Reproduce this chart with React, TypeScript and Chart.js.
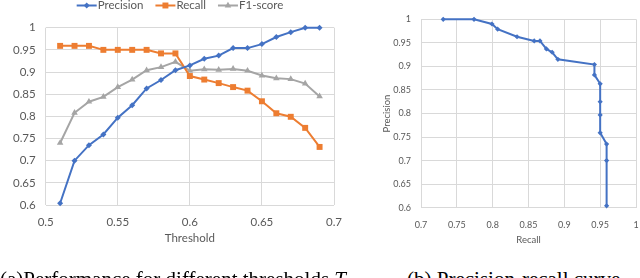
import React, { useEffect, useRef } from 'react';
import { Chart, registerables } from 'chart.js';

Chart.register(...registerables);

// ---- data ----
const thresholds = [0.51, 0.52, 0.53, 0.54, 0.55, 0.56, 0.57, 0.58, 0.59, 0.6, 0.61, 0.62, 0.63, 0.64, 0.65, 0.66, 0.67, 0.68, 0.69];
const precision = [0.604, 0.7, 0.735, 0.759, 0.797, 0.825, 0.863, 0.882, 0.904, 0.915, 0.93, 0.937, 0.954, 0.954, 0.963, 0.979, 0.99, 1.0, 1.0];
const recall = [0.959, 0.959, 0.959, 0.95, 0.95, 0.95, 0.95, 0.942, 0.942, 0.891, 0.883, 0.875, 0.866, 0.858, 0.834, 0.807, 0.799, 0.774, 0.731];
const f1 = [0.74, 0.808, 0.833, 0.844, 0.866, 0.883, 0.904, 0.911, 0.923, 0.903, 0.906, 0.905, 0.907, 0.903, 0.892, 0.886, 0.884, 0.874, 0.845];

const xTicksA = [0.5, 0.55, 0.6, 0.65, 0.7];
const yTicksA = [0.6, 0.65, 0.7, 0.75, 0.8, 0.85, 0.9, 0.95, 1];
const xTicksB = [0.7, 0.75, 0.8, 0.85, 0.9, 0.95, 1];
const yTicksB = [0.6, 0.65, 0.7, 0.75, 0.8, 0.85, 0.9, 0.95, 1];

const seriesNames = ['Precision', 'Recall', 'F1-score'];
const xTitleA = 'Threshold';
const xTitleB = 'Recall';
const yTitleB = 'Precision';
const captionA = '(a)Performance for different thresholds ';
const captionAItalic = 'T';
const captionB = '(b) Precision-recall curve';

// ---- style ----
const BLUE = '#4472C4';
const ORANGE = '#ED7D31';
const GRAY = '#A5A5A5';
const GRID = '#D9D9D9';
const TEXT = '#595959';
const FONT = 'Lato';

const fmt = (v: number) => String(+Number(v).toFixed(2));

function drawMarker(ctx: CanvasRenderingContext2D, style: string, x: number, y: number, r: number, color: string) {
  ctx.save();
  ctx.fillStyle = color;
  ctx.beginPath();
  if (style === 'rectRot') {
    ctx.moveTo(x, y - r);
    ctx.lineTo(x + r, y);
    ctx.lineTo(x, y + r);
    ctx.lineTo(x - r, y);
  } else if (style === 'rect') {
    const s = r * Math.SQRT1_2;
    ctx.rect(x - s, y - s, 2 * s, 2 * s);
  } else {
    ctx.moveTo(x, y - r);
    ctx.lineTo(x + r * 0.866, y + r * 0.5);
    ctx.lineTo(x - r * 0.866, y + r * 0.5);
  }
  ctx.closePath();
  ctx.fill();
  ctx.restore();
}

const lineLegendPlugin = {
  id: 'lineLegend',
  afterDraw(chart: any) {
    const ctx: CanvasRenderingContext2D = chart.ctx;
    const ds = chart.data.datasets;
    const lineLen = 20;
    const gap = 1;
    const itemGap = 12;
    const center = 180;
    const y = 5.5;
    ctx.save();
    ctx.font = `11.5px ${FONT}`;
    const widths = ds.map((d: any) => lineLen + gap + ctx.measureText(d.label).width);
    const total = widths.reduce((a: number, b: number) => a + b, 0) + itemGap * (ds.length - 1);
    let x = center - total / 2;
    ds.forEach((d: any, i: number) => {
      ctx.strokeStyle = d.borderColor;
      ctx.lineWidth = 2;
      ctx.beginPath();
      ctx.moveTo(x, y);
      ctx.lineTo(x + lineLen, y);
      ctx.stroke();
      drawMarker(ctx, d.pointStyle, x + lineLen / 2, y, d.pointRadius, d.borderColor);
      ctx.fillStyle = TEXT;
      ctx.textAlign = 'left';
      ctx.textBaseline = 'middle';
      ctx.fillText(d.label, x + lineLen + gap, y);
      x += widths[i] + itemGap;
    });
    ctx.restore();
  },
};

function setTicks(values: number[]) {
  return (s: any) => {
    s.ticks = values.map((v) => ({ value: v }));
  };
}

export default function App() {
  const leftRef = useRef<HTMLCanvasElement>(null);
  const rightRef = useRef<HTMLCanvasElement>(null);

  useEffect(() => {
    const tickFontA = { family: FONT, size: 11.5 };
    const left = new Chart(leftRef.current as HTMLCanvasElement, {
      type: 'line',
      data: {
        datasets: [
          {
            label: seriesNames[0],
            data: thresholds.map((t, i) => ({ x: t, y: precision[i] })),
            borderColor: BLUE,
            backgroundColor: BLUE,
            pointStyle: 'rectRot',
            pointRadius: 3,
            pointBorderWidth: 0,
            borderWidth: 2,
            clip: false,
          },
          {
            label: seriesNames[1],
            data: thresholds.map((t, i) => ({ x: t, y: recall[i] })),
            borderColor: ORANGE,
            backgroundColor: ORANGE,
            pointStyle: 'rect',
            pointRadius: 4.2,
            pointBorderWidth: 0,
            borderWidth: 2,
            clip: false,
          },
          {
            label: seriesNames[2],
            data: thresholds.map((t, i) => ({ x: t, y: f1[i] })),
            borderColor: GRAY,
            backgroundColor: GRAY,
            pointStyle: 'triangle',
            pointRadius: 3.8,
            pointBorderWidth: 0,
            borderWidth: 2,
            clip: false,
          },
        ] as any,
      },
      options: {
        animation: false,
        responsive: false,
        events: [],
        layout: { padding: { left: 0, right: 16, top: 27.7, bottom: 0 } },
        plugins: { legend: { display: false }, tooltip: { enabled: false } },
        scales: {
          x: {
            type: 'linear',
            min: 0.5,
            max: 0.7,
            afterBuildTicks: setTicks(xTicksA),
            afterFit: (s: any) => {
              s.height = 45;
              s.paddingLeft = 0;
              s.paddingRight = 0;
            },
            ticks: { padding: 10, color: TEXT, font: tickFontA, callback: (v: any) => fmt(v), maxRotation: 0, autoSkip: false },
            grid: { color: GRID, drawTicks: false, lineWidth: 1 },
            border: { display: false },
            title: { display: true, text: xTitleA, color: TEXT, font: tickFontA, padding: { top: 0, bottom: 5 } },
          },
          y: {
            type: 'linear',
            min: 0.6,
            max: 1,
            afterBuildTicks: setTicks(yTicksA),
            afterFit: (s: any) => {
              s.width = 45.7;
              s.paddingTop = 0;
              s.paddingBottom = 0;
            },
            ticks: { padding: 10, color: TEXT, font: tickFontA, callback: (v: any) => fmt(v), autoSkip: false },
            grid: { color: GRID, drawTicks: false, lineWidth: 1 },
            border: { display: false },
          },
        },
      } as any,
      plugins: [lineLegendPlugin],
    });

    const tickFontB = { family: FONT, size: 9 };
    const titleFontB = { family: FONT, size: 9.5 };
    const right = new Chart(rightRef.current as HTMLCanvasElement, {
      type: 'scatter',
      data: {
        datasets: [
          {
            label: 'PR',
            data: thresholds.map((_, i) => ({ x: recall[i], y: precision[i] })),
            borderColor: BLUE,
            backgroundColor: BLUE,
            showLine: true,
            pointStyle: 'rectRot',
            pointRadius: 2.6,
            pointBorderWidth: 0,
            borderWidth: 2,
            clip: false,
          },
        ] as any,
      },
      options: {
        animation: false,
        responsive: false,
        events: [],
        layout: { padding: { left: 0, right: 3, top: 19.3, bottom: 0 } },
        plugins: { legend: { display: false }, tooltip: { enabled: false } },
        scales: {
          x: {
            type: 'linear',
            min: 0.7,
            max: 1,
            afterBuildTicks: setTicks(xTicksB),
            afterFit: (s: any) => {
              s.height = 42.3;
              s.paddingLeft = 0;
              s.paddingRight = 0;
            },
            ticks: { padding: 12, color: TEXT, font: tickFontB, callback: (v: any) => fmt(v), maxRotation: 0, autoSkip: false },
            grid: { color: GRID, drawTicks: false },
            border: { display: false },
            title: { display: true, text: xTitleB, color: TEXT, font: titleFontB, padding: { top: 0, bottom: 4.6 } },
          },
          y: {
            type: 'linear',
            min: 0.6,
            max: 1,
            afterBuildTicks: setTicks(yTicksB),
            afterFit: (s: any) => {
              s.width = 81;
              s.paddingTop = 0;
              s.paddingBottom = 0;
            },
            ticks: { padding: 10, color: TEXT, font: tickFontB, callback: (v: any) => fmt(v), autoSkip: false },
            grid: { color: GRID, drawTicks: false },
            border: { display: false },
            title: { display: true, text: yTitleB, color: TEXT, font: titleFontB, padding: { top: 41.3, bottom: 0 } },
          },
        },
      } as any,
    });

    return () => {
      left.destroy();
      right.destroy();
    };
  }, []);

  const captionStyle: React.CSSProperties = {
    position: 'absolute',
    top: 267.5,
    fontFamily: '"Liberation Serif", "Times New Roman", serif',
    fontSize: 21,
    lineHeight: '22px',
    color: '#000',
    whiteSpace: 'nowrap',
  };

  return (
    <div style={{ position: 'absolute', left: 0, top: 0, width: 640, height: 278, overflow: 'hidden', background: '#fff' }}>
      <canvas ref={rightRef} width={300} height={250} style={{ position: 'absolute', left: 340, top: 0, width: 300, height: 250 }} />
      <canvas ref={leftRef} width={350} height={250} style={{ position: 'absolute', left: 0, top: 0, width: 350, height: 250 }} />
      <div style={{ ...captionStyle, left: 0 }}>
        {captionA}
        <i>{captionAItalic}</i>
      </div>
      <div style={{ ...captionStyle, left: 407 }}>{captionB}</div>
    </div>
  );
}
